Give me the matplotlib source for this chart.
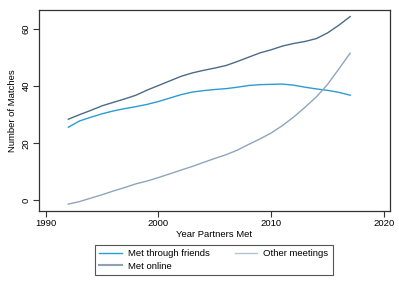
import matplotlib
matplotlib.use("Agg")
import matplotlib.pyplot as plt
from matplotlib.lines import Line2D

plt.rcParams['font.family'] = ['Liberation Sans', 'DejaVu Sans']

years = list(range(1992, 2018))
met_friends = [25.6, 27.8, 29.1, 30.3, 31.3, 32.1, 32.8, 33.6, 34.6, 35.8, 37.0, 37.9, 38.4,
               38.8, 39.1, 39.6, 40.2, 40.5, 40.6, 40.7, 40.3, 39.6, 39.0, 38.5, 37.8, 36.8]
met_online = [28.4, 30.0, 31.5, 33.1, 34.3, 35.5, 36.8, 38.6, 40.2, 41.8, 43.4, 44.6, 45.5,
              46.3, 47.2, 48.6, 50.1, 51.6, 52.7, 54.0, 54.9, 55.6, 56.6, 58.6, 61.3, 64.3]
other_meetings = [-1.3, -0.4, 0.8, 2.0, 3.3, 4.5, 5.8, 6.8, 8.0, 9.3, 10.6, 11.9, 13.3,
                  14.7, 16.0, 17.6, 19.6, 21.5, 23.6, 26.2, 29.2, 32.6, 36.2, 40.6, 46.0, 51.5]
labels = ["Met through friends", "Met online", "Other meetings"]
xticks = [1990, 2000, 2010, 2020]
yticks = [0, 20, 40, 60]

c_friends = '#2a9dd0'
c_online = '#4b6b88'
c_other = '#8fa5bd'
leg_online = '#8ea2b5'
leg_other = '#b0c4d9'

fig = plt.figure(figsize=(3.99, 2.90), dpi=100)
ax = fig.add_axes([0.0977, 0.2734, 0.9765 - 0.0977, 0.9645 - 0.2734])

ax.plot(years, met_friends, color=c_friends, lw=1.0)
ax.plot(years, met_online, color=c_online, lw=1.0)
ax.plot(years, other_meetings, color=c_other, lw=1.0)

ax.set_xlim(1989.4, 2020.5)
ax.set_ylim(-3.6, 66.5)
ax.set_xticks(xticks)
ax.set_yticks(yticks)
ax.set_xticklabels([str(t) for t in xticks], fontsize=6.8)
ax.set_yticklabels([str(t) for t in yticks], fontsize=6.8, rotation=90, va='center')
ax.tick_params(direction='out', length=4, width=0.8, colors='#333333', labelcolor='black', pad=2)
for s in ax.spines.values():
    s.set_color('#333333')
    s.set_linewidth(0.9)

ax.set_xlabel("Year Partners Met", fontsize=6.8, labelpad=1.5)
ax.set_ylabel("Number of Matches", fontsize=6.8, labelpad=3)

handles = [Line2D([], [], color=c_friends, lw=1.0),
           Line2D([], [], color=leg_online, lw=1.5),
           Line2D([], [], color=leg_other, lw=1.0)]
leg = fig.legend(handles, labels, loc='center', bbox_to_anchor=(0.536, 0.1034), ncol=2,
                 fontsize=6.8, frameon=True, fancybox=False, framealpha=1,
                 handlelength=2.4, handletextpad=0.65, columnspacing=2.6,
                 borderpad=0.5, labelspacing=0.35, borderaxespad=0)
leg.get_frame().set_edgecolor('#555555')
leg.get_frame().set_linewidth(0.8)

fig.savefig("out.png", dpi=100)
